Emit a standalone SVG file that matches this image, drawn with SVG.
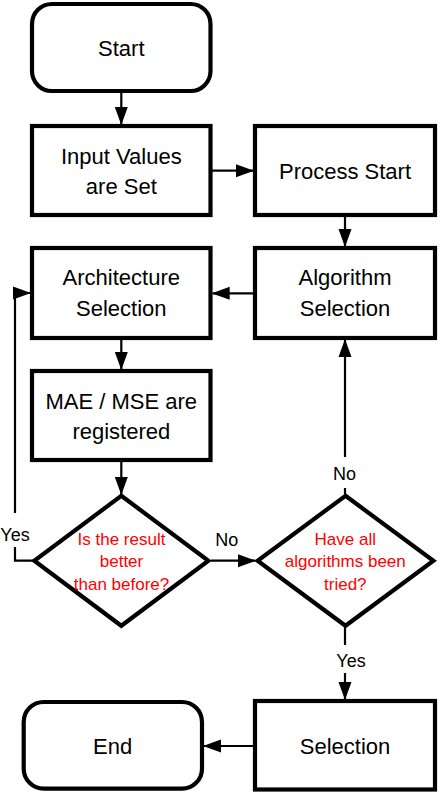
<svg xmlns="http://www.w3.org/2000/svg" width="440" height="800" viewBox="0 0 440 800">
<style>
.box{fill:#fff;stroke:#000;stroke-width:4.2}
.t{font-family:"Liberation Sans",Arial,sans-serif;font-size:22px;fill:#000;text-anchor:middle}
.q{font-family:"Liberation Sans",Arial,sans-serif;font-size:17px;fill:#ff0000;text-anchor:middle}
.l{font-family:"Liberation Sans",Arial,sans-serif;font-size:18px;fill:#000;text-anchor:middle}
.c{fill:none;stroke:#000;stroke-width:2.2}
</style>
<defs>
<marker id="ah" markerUnits="userSpaceOnUse" markerWidth="18" markerHeight="14" refX="17" refY="6.5" orient="auto" viewBox="0 0 18 13">
<path d="M0,0 L18,6.5 L0,13 z" fill="#000"/>
</marker>
</defs>
<rect width="440" height="800" fill="#fff"/>
<g id="connectors">
<path class="c" d="M121.3,91 V124" marker-end="url(#ah)"/>
<path class="c" d="M212,170.7 H253" marker-end="url(#ah)"/>
<path class="c" d="M345,217 V246" marker-end="url(#ah)"/>
<path class="c" d="M253,293.3 H212.7" marker-end="url(#ah)"/>
<path class="c" d="M121.3,340 V369" marker-end="url(#ah)"/>
<path class="c" d="M121.3,462 V494" marker-end="url(#ah)"/>
<path class="c" d="M211,560.7 H255" marker-end="url(#ah)"/>
<path class="c" d="M345,494 V488 M345,457 V340" marker-end="url(#ah)"/>
<path class="c" d="M345,627 V645 M345,673 V699" marker-end="url(#ah)"/>
<path class="c" d="M253,746 H204" marker-end="url(#ah)"/>
<path class="c" d="M33,560.7 H15 V547 M15,513 V293 H30" marker-end="url(#ah)"/>
<text class="l" x="15" y="541">Yes</text>
<text class="l" x="226.7" y="546">No</text>
<text class="l" x="344.5" y="479.5">No</text>
<text class="l" x="351" y="667">Yes</text>
</g>
<g id="start">
<rect class="box" x="32" y="4" width="178.5" height="87" rx="20"/>
<text class="t" x="121.3" y="56">Start</text>
</g>
<g id="input">
<rect class="box" x="32" y="126" width="178.5" height="89"/>
<text class="t" x="121.3" y="163.5">Input Values</text>
<text class="t" x="121.3" y="193.5">are Set</text>
</g>
<g id="process">
<rect class="box" x="255" y="126" width="180" height="89"/>
<text class="t" x="345" y="178.5">Process Start</text>
</g>
<g id="architecture">
<rect class="box" x="32" y="248" width="178.5" height="90"/>
<text class="t" x="121.3" y="285">Architecture</text>
<text class="t" x="121.3" y="316">Selection</text>
</g>
<g id="algorithm">
<rect class="box" x="255" y="248" width="180" height="90"/>
<text class="t" x="345" y="285">Algorithm</text>
<text class="t" x="345" y="316">Selection</text>
</g>
<g id="mae">
<rect class="box" x="32" y="371" width="178.5" height="89"/>
<text class="t" x="121.3" y="408.5">MAE / MSE are</text>
<text class="t" x="121.3" y="438.5">registered</text>
</g>
<g id="decision1">
<polygon class="box" points="121.3,495.8 208.4,560.7 121.3,625.8 34.3,560.7"/>
<text class="q" x="121.5" y="545">Is the result</text>
<text class="q" x="121.5" y="567">better</text>
<text class="q" x="121.5" y="589.5">than before?</text>
</g>
<g id="decision2">
<polygon class="box" points="345.5,495.8 433.4,560.7 345.5,625.8 257.6,560.7"/>
<text class="q" x="345.3" y="545">Have all</text>
<text class="q" x="345.3" y="567">algorithms been</text>
<text class="q" x="345.3" y="589.5">tried?</text>
</g>
<g id="selection">
<rect class="box" x="255" y="701" width="180" height="88.5"/>
<text class="t" x="345" y="753.5">Selection</text>
</g>
<g id="end">
<rect class="box" x="23.7" y="702" width="178.3" height="86.7" rx="20"/>
<text class="t" x="112.7" y="753.5">End</text>
</g>
</svg>
